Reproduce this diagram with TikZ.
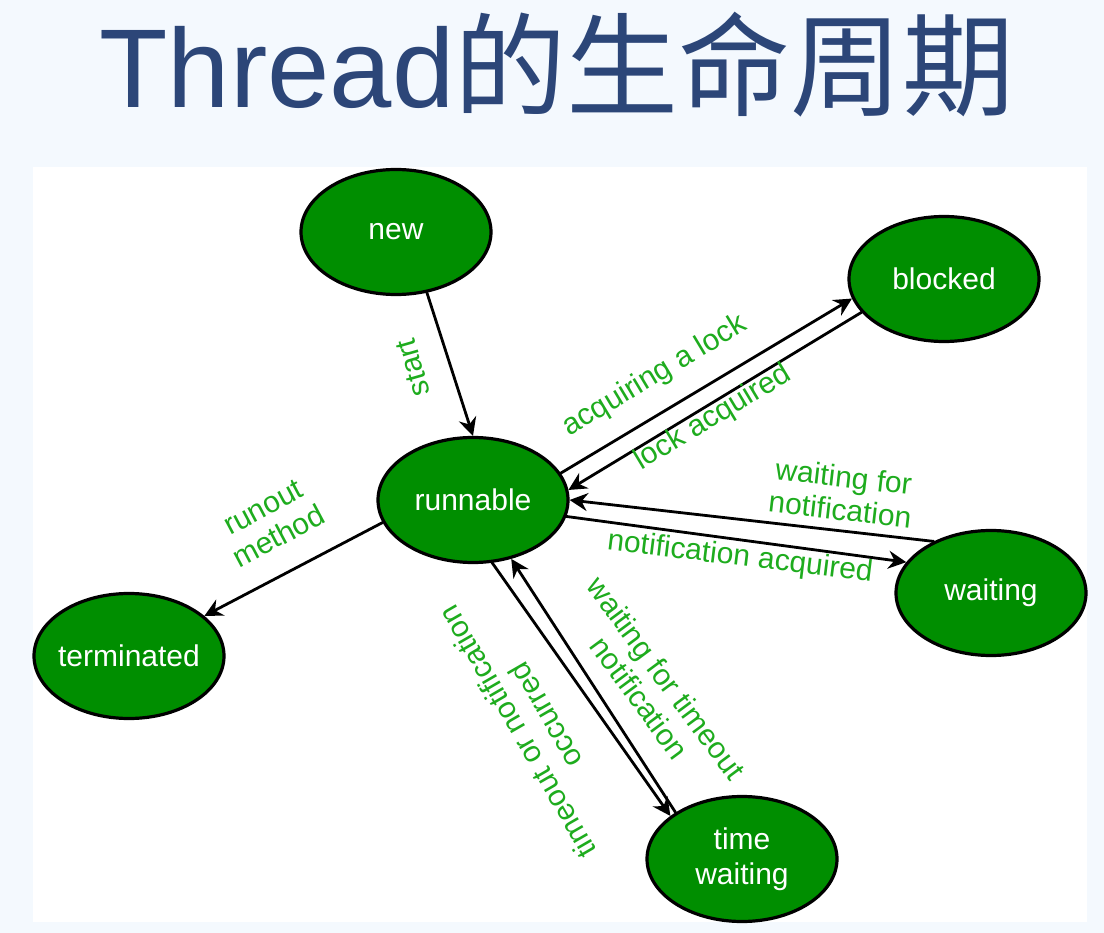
\documentclass[tikz,border=0pt]{standalone}
\usepackage{fontspec}
\setmainfont{Liberation Sans}
\newfontfamily\cjk{Noto Sans CJK SC}
\usetikzlibrary{shapes.geometric,arrows.meta}
\definecolor{titleblue}{RGB}{44,70,120}
\definecolor{pagebg}{RGB}{244,249,254}
\definecolor{stategreen}{RGB}{0,142,0}
\definecolor{labelgreen}{RGB}{30,172,30}

\begin{document}
\begin{tikzpicture}[
  x=1pt, y=-1pt,
  line cap=round,
  line join=round,
  state/.style={ellipse, draw=black, line width=3.2pt, fill=stategreen,
    minimum width=190pt, minimum height=125pt, inner xsep=-6pt, inner ysep=0pt,
    text=white, font=\fontsize{30}{35}\selectfont, align=center},
  trans/.style={line width=2.8pt, -{Stealth[length=18pt,width=18pt,inset=6pt]}},
  edgetext/.style={text=labelgreen, font=\fontsize{30}{33}\selectfont,
    align=center, inner sep=0pt}
]
  % 背景
  \useasboundingbox (0,0) rectangle (1104,933);
  \fill[pagebg] (0,0) rectangle (1104,933);
  \fill[white] (33,167) rectangle (1087,922);

  % 标题
  \node[text=titleblue, font=\fontsize{112}{112}\selectfont, anchor=base,
    inner sep=0pt] (title) at (557,108) {Thread{\cjk 的生命周期}};

  % 状态
  \node[state] (new) at (396,232) {new};
  \node[state] (blocked) at (944,279) {blocked};
  \node[state] (runnable) at (473,500) {runnable};
  \node[state] (waiting) at (991,593) {waiting};
  \node[state] (terminated) at (129,656) {terminated};
  \node[state] (timewaiting) at (742,859) {time\\waiting};

  % 转换
  \draw[trans] (new.-63) -- (runnable.90);
  \draw[trans] (runnable.17) -- (blocked.192);
  \draw[trans] (blocked.202) -- (runnable.6);
  \draw[trans] (waiting.138) -- (runnable.0);
  \draw[trans] (runnable.-10) -- (waiting.160);
  \draw[trans] (runnable.194) -- (terminated.28);
  \draw[trans] (runnable.-73) -- (timewaiting.149);
  \draw[trans] (timewaiting.145) -- (runnable.-57);

  % 标签
  \node[edgetext, rotate=106] (lstart) at (413,368) {start};
  \node[edgetext, rotate=31] (lacquire) at (655,376) {acquiring a lock};
  \node[edgetext, rotate=31] (llock) at (713,418) {lock acquired};
  \node[edgetext, rotate=-6.5] (lwaitfor) at (842,493) {waiting for\\notification};
  \node[edgetext, rotate=-7] (lnotify) at (740,558) {notification acquired};
  \node[edgetext, rotate=28] (lrunout) at (271,522) {runout\\method};
  \node[edgetext, rotate=-53.5] (ltimeout) at (653,688) {waiting for timeout\\notification};
  \node[edgetext, rotate=120] (loccur) at (531,724) {timeout or notification\\occurred};
\end{tikzpicture}
\end{document}
